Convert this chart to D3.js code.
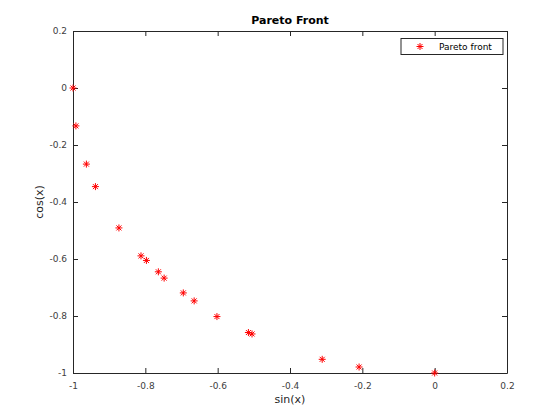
<!DOCTYPE html>
<html><head><meta charset="utf-8">
<script src="https://cdn.jsdelivr.net/npm/d3@7"></script>
<style>body{margin:0;background:#fff;} text{font-family:"DejaVu Sans",sans-serif;}</style>
</head><body>
<svg id="c" width="560" height="420"></svg>
<script>
const xValues = [-1.0, -0.992, -0.963, -0.938, -0.873, -0.812, -0.797, -0.764, -0.748, -0.695, -0.665, -0.602, -0.515, -0.505, -0.311, -0.209, 0.0];
const yValues = [0.0, -0.133, -0.267, -0.346, -0.491, -0.589, -0.605, -0.645, -0.667, -0.719, -0.747, -0.802, -0.858, -0.863, -0.952, -0.979, -1.0];
const xTicks = [-1, -0.8, -0.6, -0.4, -0.2, 0, 0.2];
const yTicks = [-1, -0.8, -0.6, -0.4, -0.2, 0, 0.2];
const seriesName = "Pareto front";

const svg = d3.select("#c");
const L = 73, R = 507, T = 31, B = 373;
const x = d3.scaleLinear().domain([-1, 0.2]).range([L, R]);
const y = d3.scaleLinear().domain([-1, 0.2]).range([B, T]);
const tickColor = "#262626";
const fmt = d => d3.format("~g")(d).replace("\u2212", "-");

function axis(gen, tr, labels) {
  const g = svg.append("g").attr("transform", tr).call(gen);
  g.select(".domain").attr("stroke", tickColor).attr("stroke-width", 1);
  g.selectAll(".tick line").attr("stroke", tickColor);
  g.selectAll(".tick text").attr("fill", labels ? "#404040" : "none").attr("font-size", 9)
    .attr("font-family", "DejaVu Sans, sans-serif");
  return g;
}
axis(d3.axisBottom(x).tickValues(xTicks).tickFormat(fmt).tickSizeInner(-5).tickSizeOuter(0).tickPadding(9.5), `translate(0,${B})`, true);
axis(d3.axisTop(x).tickValues(xTicks).tickFormat("").tickSizeInner(-5).tickSizeOuter(0), `translate(0,${T})`, false);
axis(d3.axisLeft(y).tickValues(yTicks).tickFormat(fmt).tickSizeInner(-5).tickSizeOuter(0).tickPadding(6), `translate(${L},0)`, true);
axis(d3.axisRight(y).tickValues(yTicks).tickFormat("").tickSizeInner(-5).tickSizeOuter(0), `translate(${R},0)`, false);

const star = "M-3.5,0H3.5M0,-3.5V3.5M-2.5,-2.5L2.5,2.5M-2.5,2.5L2.5,-2.5";
svg.append("g").selectAll("path").data(xValues).join("path")
  .attr("transform", (d, i) => `translate(${x(d)},${y(yValues[i])})`)
  .attr("d", star).attr("stroke", "#ff0000").attr("stroke-width", 1).attr("fill", "none");

svg.append("text").attr("x", 290).attr("y", 24).attr("text-anchor", "middle")
  .attr("font-size", 11).attr("font-weight", "bold").attr("fill", "#000").text("Pareto Front");
svg.append("text").attr("x", (L + R) / 2).attr("y", 403).attr("text-anchor", "middle")
  .attr("font-size", 11).attr("fill", tickColor).text("sin(x)");
svg.append("text").attr("transform", `translate(43,${(T + B) / 2}) rotate(-90)`).attr("text-anchor", "middle")
  .attr("font-size", 11).attr("fill", tickColor).text("cos(x)");

const lg = svg.append("g");
lg.append("rect").attr("x", 401).attr("y", 38.5).attr("width", 102).attr("height", 16)
  .attr("fill", "#fff").attr("stroke", tickColor).attr("stroke-width", 1);
lg.append("path").attr("transform", "translate(420,46.5)").attr("d", star)
  .attr("stroke", "#ff0000").attr("stroke-width", 1).attr("fill", "none");
lg.append("text").attr("x", 439).attr("y", 50).attr("font-size", 9).attr("fill", "#000").text(seriesName);
</script>
</body></html>
